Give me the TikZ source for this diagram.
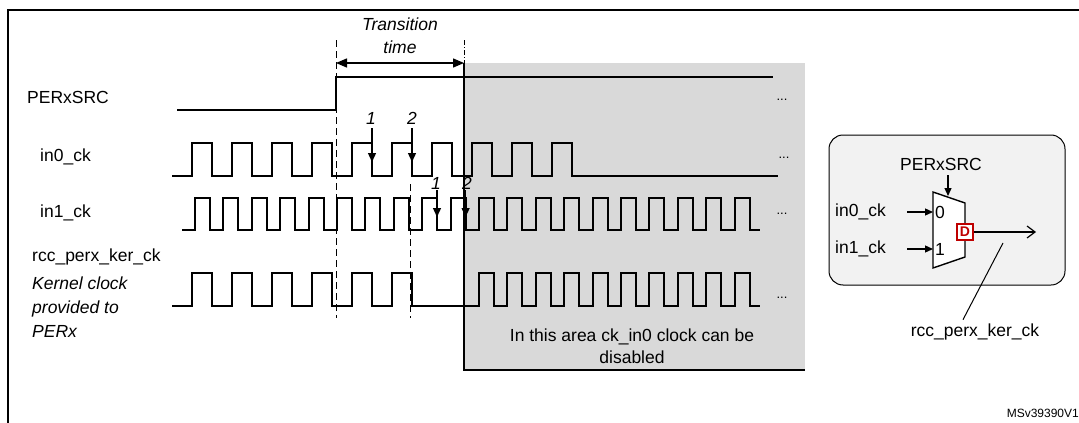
\documentclass[tikz,border=0pt]{standalone}
\usepackage{fontspec}
\setmainfont{Liberation Sans}
\usetikzlibrary{arrows.meta}
\begin{document}
\begin{tikzpicture}[x=1pt,y=-1pt,
  wave/.style={line width=2pt,line join=miter},
  lbl/.style={font=\fontsize{17.5}{20}\selectfont,inner sep=0pt},
  ilbl/.style={font=\fontsize{17.5}{20}\selectfont\itshape,inner sep=0pt},
  dsh/.style={dash pattern=on 7pt off 4pt,line width=1pt},
  edgearrow/.style={-{Triangle[length=9pt,width=8pt]},line width=1.3pt},
  smallarrow/.style={-{Triangle[length=8pt,width=7pt]},line width=1.3pt},
  dots/.style={font=\fontsize{13}{14}\selectfont,inner sep=0pt}]
\useasboundingbox (0,0) rectangle (1079,423);
% frame
\draw[line width=2pt] (7.5,430) -- (7.5,9.5) -- (1090,9.5);
% shaded area
\fill[gray!30] (464,63) rectangle (805,370);
\draw[line width=1.3pt] (464,63) -- (464,370) -- (805,370);
% dashed lines
\draw[dsh] (336,40) -- (336,318);
\draw[dsh] (410,184) -- (410,318);
\draw[dash pattern=on 5pt off 2pt on 1pt off 2pt,line width=1pt] (464,40) -- (464,63);
% transition arrow
\coordinate (ta) at (336,63); \coordinate (tb) at (464,63);
\draw[{Triangle[length=11pt,width=9pt]}-{Triangle[length=11pt,width=9pt]},line width=1.3pt] (ta) -- (tb);
\node[ilbl,align=center] (tt) at (400,36) {Transition\\[3pt]time};
% PERxSRC
\draw[wave] (177,110) -- (336,110) -- (336,77) -- (773,77);
% in0
\draw[wave] (172,176) \foreach \k in {0,...,9} { -- ({192+40*\k},176) -- ({192+40*\k},143) -- ({212+40*\k},143) -- ({212+40*\k},176) } -- (778,176);
% in1
\draw[wave] (182,230) \foreach \k in {0,...,19} { -- ({195+28.4*\k},230) -- ({195+28.4*\k},198) -- ({210+28.4*\k},198) -- ({210+28.4*\k},230) } -- (760,230);
% rcc
\draw[wave] (172,306) \foreach \k in {0,...,5} { -- ({192+40*\k},306) -- ({192+40*\k},273) -- ({212+40*\k},273) -- ({212+40*\k},306) }
  \foreach \k in {10,...,19} { -- ({195+28.4*\k},306) -- ({195+28.4*\k},273) -- ({210+28.4*\k},273) -- ({210+28.4*\k},306) } -- (760,306);
% edge marks
\node[ilbl] (a1) at (371,118) {1};
\node[ilbl] (a2) at (412,118) {2};
\draw[edgearrow] (372,128) -- (372,162);
\draw[edgearrow] (412,128) -- (412,162);
\node[ilbl] (b1) at (436,183) {1};
\node[ilbl] (b2) at (467,183) {2};
\draw[edgearrow] (437,190) -- (437,217);
\draw[edgearrow] (465.6,190) -- (465.6,217);
% dots
\node[dots] (d1) at (782,100) {...};
\node[dots] (d2) at (784,158) {...};
\node[dots] (d3) at (782,214) {...};
\node[dots] (d4) at (782,298) {...};
% labels
\node[lbl,anchor=west] (l1) at (27,97) {PERxSRC};
\node[lbl,anchor=west] (l2) at (40,157) {in0\_ck};
\node[lbl,anchor=west] (l3) at (40,213) {in1\_ck};
\node[lbl,anchor=west] (l4) at (32,257) {rcc\_perx\_ker\_ck};
\node[ilbl,anchor=west,align=left] (l5) at (32,307) {Kernel clock\\[4pt]provided to\\[4pt]PERx};
\node[lbl,align=center] (area) at (632,346) {In this area ck\_in0 clock can be\\[2pt]disabled};
% mux box
\draw[fill=gray!10,rounded corners=14pt,line width=1pt] (829,135) rectangle (1065,285);
\draw[line width=1.4pt,fill=white] (933,192) -- (965,203) -- (965,257) -- (933,268) -- cycle;
\node[lbl] (ms) at (941,164) {PERxSRC};
\draw[smallarrow] (948,175) -- (948,196);
\node[lbl,anchor=west] (mi0) at (835,212) {in0\_ck};
\node[lbl,anchor=west] (mi1) at (835,249) {in1\_ck};
\draw[smallarrow] (907,212) -- (933,212);
\draw[smallarrow] (907,249) -- (933,249);
\node[lbl,anchor=west] (m0) at (935,212) {0};
\node[lbl,anchor=west] (m1) at (935,249) {1};
\node[draw=red!75!black,line width=1.2pt,fill=white,text=red!75!black,font=\fontsize{14}{15}\selectfont\bfseries,inner sep=1pt,minimum size=16pt] (dq) at (965,232) {D};
\draw[-{Straight Barb[length=8pt,width=12pt]},line width=1.2pt] (dq.east) -- (1036,232);
\node[lbl] (mo) at (975,332) {rcc\_perx\_ker\_ck};
\draw[line width=1pt] (mo.north) ++(-12,-4) -- (1003,243);
\node[font=\fontsize{12}{13}\selectfont,anchor=east,inner sep=0pt] (ms2) at (1079,413) {MSv39390V1};
\end{tikzpicture}
\end{document}
